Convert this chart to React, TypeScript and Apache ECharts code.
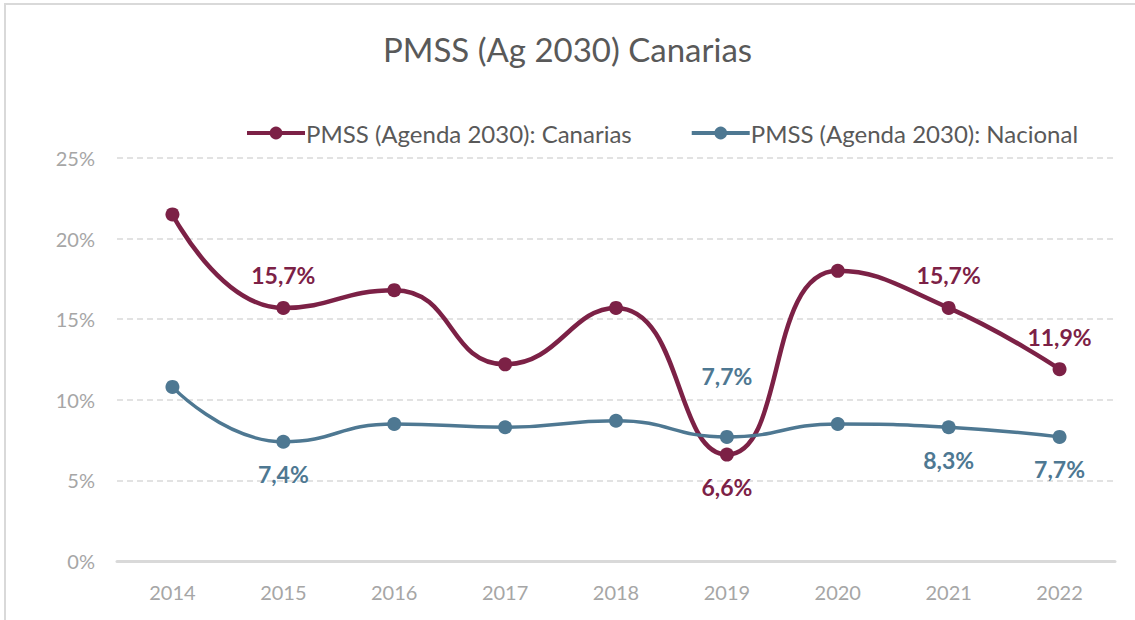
import React, { useEffect, useRef } from "react";
import * as echarts from "echarts";

const title = "PMSS (Ag 2030) Canarias";
const years = ["2014", "2015", "2016", "2017", "2018", "2019", "2020", "2021", "2022"];
const canariasName = "PMSS (Agenda 2030): Canarias";
const nacionalName = "PMSS (Agenda 2030): Nacional";
const canarias = [21.5, 15.7, 16.8, 12.2, 15.7, 6.6, 18.0, 15.7, 11.9];
const nacional = [10.8, 7.4, 8.5, 8.3, 8.7, 7.7, 8.5, 8.3, 7.7];
// label placement per point ("" = no label)
const canariasLabels = ["", "top", "", "", "", "bottom", "", "top", "top"];
const nacionalLabels = ["", "bottom", "", "", "", "top", "", "bottom", "bottom"];
const yTicks = [0, 5, 10, 15, 20, 25];

const C1 = "#7c2146";
const C2 = "#4e7892";
const FONT = "Lato, 'Open Sans', sans-serif";

const fmt = (v: number) => v.toFixed(1).replace(".", ",") + "%";

function buildData(values: number[], labels: string[], color: string) {
  return values.map((v, i) => {
    const pos = labels[i];
    if (!pos) return { value: v };
    return {
      value: v,
      label: {
        show: true,
        position: pos,
        distance: 14,
        formatter: () => fmt(v),
        color,
        fontSize: 23,
        fontWeight: "bold",
        fontFamily: FONT,
      },
    };
  });
}

export default function App() {
  const ref = useRef<HTMLDivElement>(null);
  useEffect(() => {
    document.body.style.margin = "0";
    const chart = echarts.init(ref.current!, null, { renderer: "svg" });
    const natData = buildData(nacional, nacionalLabels, C2);
    // 2019 nacional label is placed higher
    (natData[5] as any).label.distance = 42;
    chart.setOption({
      animation: false,
      backgroundColor: "#ffffff",
      title: {
        text: title,
        left: "center",
        top: 27,
        textStyle: { fontFamily: FONT, fontSize: 33, fontWeight: "normal", color: "#595959" },
      },
      legend: {
        top: 116,
        left: 240,
        itemGap: 58,
        itemWidth: 58,
        itemHeight: 16,
        lineStyle: { width: 4 },
        textStyle: { fontFamily: FONT, fontSize: 24, color: "#595959", padding: [0, 0, 0, -4] },
        data: [canariasName, nacionalName],
      },
      grid: { left: 117, right: 20, top: 158, bottom: 59 },
      xAxis: {
        type: "category",
        data: years,
        boundaryGap: true,
        axisLine: { lineStyle: { color: "#d9d9d9", width: 3 } },
        axisTick: { show: false },
        axisLabel: { color: "#a6a6a6", fontSize: 20, fontFamily: FONT, margin: 21 },
      },
      yAxis: {
        type: "value",
        min: yTicks[0],
        max: yTicks[yTicks.length - 1],
        interval: 5,
        axisLine: { show: false },
        axisTick: { show: false },
        axisLabel: { color: "#a6a6a6", fontSize: 20, fontFamily: FONT, margin: 22, formatter: "{value}%" },
        splitLine: { lineStyle: { color: "#d9d9d9", type: [6, 4], width: 1.5 } },
      },
      graphic: [
        {
          type: "polyline",
          shape: { points: [[5, 620], [5, 4], [1135, 4]] },
          style: { stroke: "#d9d9d9", lineWidth: 2, fill: "none" },
          silent: true,
        },
      ],
      series: [
        {
          name: canariasName,
          type: "line",
          smooth: 0.5,
          data: buildData(canarias, canariasLabels, C1),
          symbol: "circle",
          symbolSize: 14,
          itemStyle: { color: C1 },
          lineStyle: { color: C1, width: 4.5 },
          z: 3,
        },
        {
          name: nacionalName,
          type: "line",
          smooth: 0.5,
          data: natData,
          symbol: "circle",
          symbolSize: 14,
          itemStyle: { color: C2 },
          lineStyle: { color: C2, width: 3.5 },
          z: 4,
        },
      ],
    });
    return () => chart.dispose();
  }, []);
  return <div ref={ref} style={{ width: 1135, height: 620 }} />;
}
